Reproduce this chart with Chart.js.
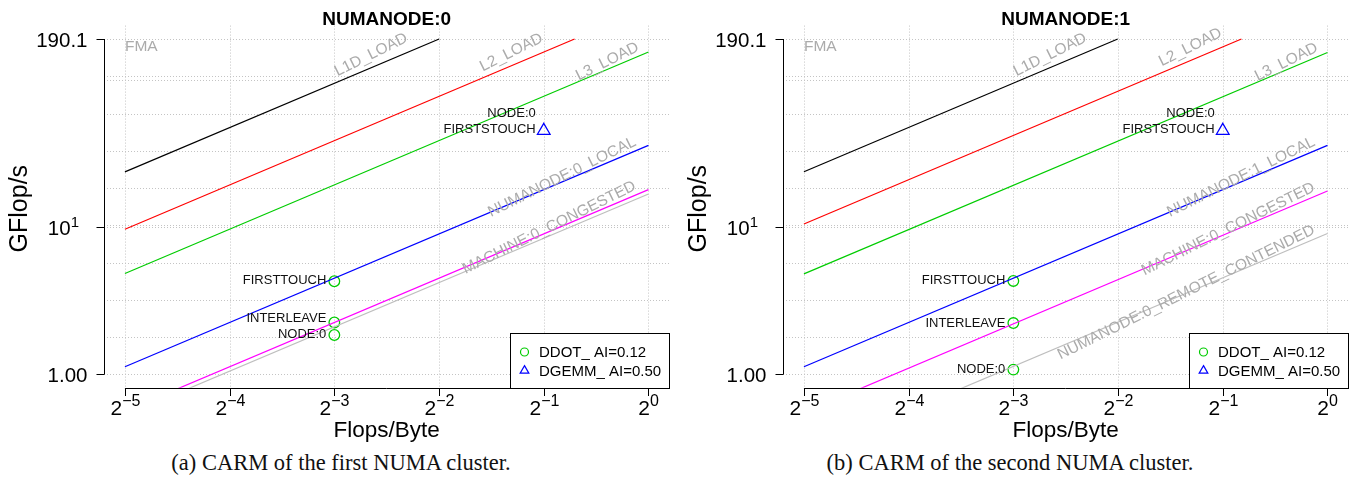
<!DOCTYPE html>
<html>
<head>
<meta charset="utf-8">
<script src="https://cdn.jsdelivr.net/npm/chart.js@4/dist/chart.umd.min.js"></script>
<style>
  html, body { margin: 0; padding: 0; background: #fff; }
  body { width: 1356px; height: 481px; position: relative; overflow: hidden; }
  .panel { position: absolute; top: 0; width: 678px; height: 445px; }
  .cap { position: absolute; top: 451px; width: 600px; text-align: center;
         font-family: "Liberation Serif", "DejaVu Serif", serif; font-size: 22.5px;
         line-height: 24px; color: #111; white-space: nowrap; }
</style>
</head>
<body>
<div class="panel" style="left:0px"><canvas id="c0" width="678" height="445"></canvas></div>
<div class="panel" style="left:679px"><canvas id="c1" width="678" height="445"></canvas></div>
<div class="cap" style="left:41px">(a) CARM of the first NUMA cluster.</div>
<div class="cap" style="left:710px">(b) CARM of the second NUMA cluster.</div>
<script>
// ---------------- data ----------------
const panelTitles = ['NUMANODE:0', 'NUMANODE:1'];
const xTickExponents = [-5, -4, -3, -2, -1, 0];          // Flops/Byte ticks, 2^e
const yTickValues = [1, 10, 190.1];                       // GFlop/s ticks
const yTickBase = ['1.00', '10', '190.1'];
const yTickSup = ['', '1', ''];
const fmaPeak = 190.1;                                    // FMA roof (GFlop/s)

const roofNames0 = ['L1D_LOAD', 'L2_LOAD', 'L3_LOAD', 'NUMANODE:0_LOCAL', 'MACHINE:0_CONGESTED', ''];
const roofBW0 = [760, 310, 155, 36, 18.0, 16.8];          // GB/s
const roofNames1 = ['L1D_LOAD', 'L2_LOAD', 'L3_LOAD', 'NUMANODE:1_LOCAL', 'MACHINE:0_CONGESTED', 'NUMANODE:0_REMOTE_CONTENDED'];
const roofBW1 = [762, 336, 154, 36, 17.6, 9.05];

const ddotAI = 0.125;
const ddotNames = ['FIRSTTOUCH', 'INTERLEAVE', 'NODE:0'];
const ddotPerf0 = [4.29, 2.25, 1.85];
const ddotPerf1 = [4.31, 2.23, 1.076];

const dgemmAI = 0.5;
const dgemmNames = [['NODE:0', 'FIRSTSTOUCH']];
const dgemmPerf0 = [45.3];
const dgemmPerf1 = [45.3];

const legendNames = ['DDOT_ AI=0.12', 'DGEMM_ AI=0.50'];

// ---------------- styles / placement ----------------
const roofColors = ['#000000', '#ff0000', '#00cc00', '#0000ff', '#ff00ff', '#bebebe'];
const roofLabelEndAI = [0.2103, 0.515, 0.958, 0.94, 0.94, 0.94];
const roofLabelLift = [10, 10, 5, 5, 5, 5];
const ddotLabelNudge = [[-2, -5, -2], [-2, -1, -1]];
const FONT = '"Liberation Sans", Arial, Helvetica, sans-serif';
const GRID = '#c4c4c4';
const LABEL_GRAY = '#ababab';

const panels = [
  { title: panelTitles[0], names: roofNames0, bw: roofBW0, ddot: ddotPerf0, dgemm: dgemmPerf0 },
  { title: panelTitles[1], names: roofNames1, bw: roofBW1, ddot: ddotPerf1, dgemm: dgemmPerf1 }
];

function supText(ctx, base, sup, xRight, xCenter, baseY, baseSize, supSize, supRise, align) {
  ctx.font = baseSize + 'px ' + FONT;
  const wb = ctx.measureText(base).width;
  ctx.font = supSize + 'px ' + FONT;
  const ws = sup ? ctx.measureText(sup).width : 0;
  let x0;
  if (align === 'center') x0 = xCenter - (wb + ws) / 2;
  else x0 = xRight - (wb + ws);
  ctx.textAlign = 'left';
  ctx.textBaseline = 'alphabetic';
  ctx.font = baseSize + 'px ' + FONT;
  ctx.fillText(base, x0, baseY);
  if (sup) {
    ctx.font = supSize + 'px ' + FONT;
    ctx.fillText(sup, x0 + wb, baseY - supRise);
  }
}

function makePlugin(pi) {
  const P = panels[pi];
  return {
    id: 'carm' + pi,
    beforeDatasetsDraw(chart) {
      const { ctx, chartArea: a, scales: { x, y } } = chart;
      ctx.save();
      ctx.strokeStyle = GRID;
      ctx.lineWidth = 1;
      ctx.setLineDash([1, 2]);
      const hv = [];
      for (let k = 0; k <= 9; k++) hv.push(Math.pow(fmaPeak, k / 9));
      hv.push(10, 100);
      hv.forEach(v => {
        const py = Math.round(y.getPixelForValue(v)) + 0.5;
        ctx.beginPath(); ctx.moveTo(a.left, py); ctx.lineTo(a.right, py); ctx.stroke();
      });
      xTickExponents.forEach(e => {
        const px = Math.round(x.getPixelForValue(Math.pow(2, e))) + 0.5;
        ctx.beginPath(); ctx.moveTo(px, a.top); ctx.lineTo(px, a.bottom); ctx.stroke();
      });
      ctx.restore();
    },
    afterDatasetsDraw(chart) {
      const { ctx, chartArea: a, scales: { x, y } } = chart;
      ctx.save();
      ctx.setLineDash([]);
      ctx.fillStyle = '#000';
      ctx.strokeStyle = '#000';
      ctx.lineWidth = 1;

      // roof labels (gray, rotated)
      ctx.fillStyle = LABEL_GRAY;
      ctx.font = '15.5px ' + FONT;
      ctx.textBaseline = 'alphabetic';
      ctx.textAlign = 'left';
      const yPeak = y.getPixelForValue(fmaPeak);
      ctx.fillText('FMA', x.getPixelForValue(Math.pow(2, xTickExponents[0])), yPeak + 12);
      P.names.forEach((nm, i) => {
        if (!nm) return;
        const bw = P.bw[i];
        const xr = roofLabelEndAI[i];
        const px = x.getPixelForValue(xr), py = y.getPixelForValue(bw * xr);
        const qx = x.getPixelForValue(xr / 4), qy = y.getPixelForValue(bw * xr / 4);
        const ang = Math.atan2(py - qy, px - qx) * 1.15;
        ctx.save();
        ctx.translate(px, py);
        ctx.rotate(ang);
        ctx.textAlign = 'right';
        ctx.fillText(nm, 0, -roofLabelLift[i]);
        ctx.restore();
      });

      // point labels
      ctx.fillStyle = '#111';
      ctx.font = '13px ' + FONT;
      ctx.textAlign = 'right';
      const nRoof = P.bw.length;
      const mD = chart.getDatasetMeta(nRoof);
      mD.data.forEach((pt, j) => {
        ctx.fillText(ddotNames[j], pt.x - 8, pt.y + ddotLabelNudge[pi][j] + 4.7);
      });
      const mG = chart.getDatasetMeta(nRoof + 1);
      mG.data.forEach((pt, j) => {
        const lines = dgemmNames[j];
        ctx.fillText(lines[0], pt.x - 8, pt.y - 18 + 4.7);
        ctx.fillText(lines[1], pt.x - 8, pt.y - 2.3 + 4.7);
      });

      // axes
      ctx.fillStyle = '#000';
      ctx.strokeStyle = '#000';
      const ax = Math.round(a.left) + 0.5;
      const y1 = y.getPixelForValue(yTickValues[0]);
      const y2 = y.getPixelForValue(yTickValues[yTickValues.length - 1]);
      ctx.beginPath(); ctx.moveTo(ax, y1); ctx.lineTo(ax, y2); ctx.stroke();
      yTickValues.forEach((v, i) => {
        const py = Math.round(y.getPixelForValue(v)) + 0.5;
        ctx.beginPath(); ctx.moveTo(ax - 8, py); ctx.lineTo(ax, py); ctx.stroke();
        const right = yTickSup[i] ? a.left - 25 : a.left - 16.5;
        supText(ctx, yTickBase[i], yTickSup[i], right, 0, py + 7.3, 20.5, 15, 8, 'right');
      });
      const bx = Math.round(a.bottom) + 0.5;
      const x1 = x.getPixelForValue(Math.pow(2, xTickExponents[0]));
      const x2 = x.getPixelForValue(Math.pow(2, xTickExponents[xTickExponents.length - 1]));
      ctx.beginPath(); ctx.moveTo(x1, bx); ctx.lineTo(x2, bx); ctx.stroke();
      xTickExponents.forEach(e => {
        const px = Math.round(x.getPixelForValue(Math.pow(2, e))) + 0.5;
        ctx.beginPath(); ctx.moveTo(px, bx); ctx.lineTo(px, bx + 7.5); ctx.stroke();
        supText(ctx, '2', (e < 0 ? '\u2212' : '') + Math.abs(e), 0, px, bx + 26.5, 21, 16, 9.5, 'center');
      });

      // titles
      ctx.textAlign = 'center';
      ctx.textBaseline = 'alphabetic';
      ctx.font = 'bold 19px ' + FONT;
      const cx = (a.left + a.right) / 2;
      ctx.fillText(P.title, cx, 24.5);
      ctx.font = '22.5px ' + FONT;
      ctx.fillText('Flops/Byte', cx, 436.5);
      ctx.save();
      ctx.translate(18, (a.top + a.bottom) / 2 + 2);
      ctx.rotate(-Math.PI / 2);
      ctx.font = '25px ' + FONT;
      ctx.fillText('GFlop/s', 0, 8.8);
      ctx.restore();

      // legend (bottom right inside plot region)
      const lw = 159, lh = 55;
      const lx = Math.round(a.right - lw) + 0.5, ly = Math.round(a.bottom - lh) + 0.5;
      ctx.fillStyle = '#fff';
      ctx.fillRect(lx, ly, lw, lh);
      ctx.strokeStyle = '#000';
      ctx.strokeRect(lx, ly, lw, lh);
      const dsets = chart.data.datasets;
      [nRoof, nRoof + 1].forEach((di, r) => {
        const ds = dsets[di];
        const cyy = ly + 18.5 + r * 18.6;
        const sx = lx + 14;
        ctx.strokeStyle = ds.pointBorderColor;
        ctx.lineWidth = 1.2;
        ctx.beginPath();
        if (ds.pointStyle === 'circle') {
          ctx.arc(sx, cyy, 4, 0, Math.PI * 2);
        } else {
          const rr = 5;
          ctx.moveTo(sx, cyy - rr);
          ctx.lineTo(sx + rr * 0.866, cyy + rr / 2);
          ctx.lineTo(sx - rr * 0.866, cyy + rr / 2);
          ctx.closePath();
        }
        ctx.stroke();
        ctx.fillStyle = '#000';
        ctx.font = '15px ' + FONT;
        ctx.textAlign = 'left';
        ctx.fillText(ds.label, lx + 28.5, cyy + 5.4);
      });
      ctx.restore();
    }
  };
}

function buildChart(pi) {
  const P = panels[pi];
  const xs = Math.pow(2, xTickExponents[0]);
  const xmaxTick = Math.pow(2, xTickExponents[xTickExponents.length - 1]);
  const datasets = P.bw.map((bw, i) => {
    const xe = Math.min(xmaxTick, fmaPeak / bw);
    return {
      label: P.names[i] || 'roof' + i,
      data: [{ x: xs, y: bw * xs }, { x: xe, y: bw * xe }],
      borderColor: roofColors[i],
      borderWidth: 1.2,
      pointRadius: 0,
      pointHoverRadius: 0,
      fill: false,
      tension: 0
    };
  });
  datasets.push({
    label: legendNames[0],
    data: P.ddot.map(v => ({ x: ddotAI, y: v })),
    showLine: false,
    pointStyle: 'circle',
    pointRadius: 5.3,
    pointBorderWidth: 1.3,
    pointBorderColor: '#00cc00',
    pointBackgroundColor: 'rgba(0,0,0,0)',
    borderColor: '#00cc00'
  });
  datasets.push({
    label: legendNames[1],
    data: P.dgemm.map(v => ({ x: dgemmAI, y: v })),
    showLine: false,
    pointStyle: 'triangle',
    pointRadius: 7.3,
    pointBorderWidth: 1.3,
    pointBorderColor: '#0000ff',
    pointBackgroundColor: 'rgba(0,0,0,0)',
    borderColor: '#0000ff'
  });
  return new Chart(document.getElementById('c' + pi), {
    type: 'line',
    data: { datasets },
    options: {
      responsive: false,
      animation: false,
      devicePixelRatio: 1,
      events: [],
      layout: { padding: { left: 104, right: 6.5, top: 25.6, bottom: 57.3 } },
      plugins: { legend: { display: false }, title: { display: false }, tooltip: { enabled: false } },
      scales: {
        x: { type: 'logarithmic', min: Math.pow(2, -5.2), max: Math.pow(2, 0.2), display: false, bounds: 'data' },
        y: { type: 'logarithmic', min: Math.pow(10, -0.0912), max: Math.pow(10, 2.3701), display: false, bounds: 'data' }
      }
    },
    plugins: [makePlugin(pi)]
  });
}
buildChart(0);
buildChart(1);
</script>
</body>
</html>
